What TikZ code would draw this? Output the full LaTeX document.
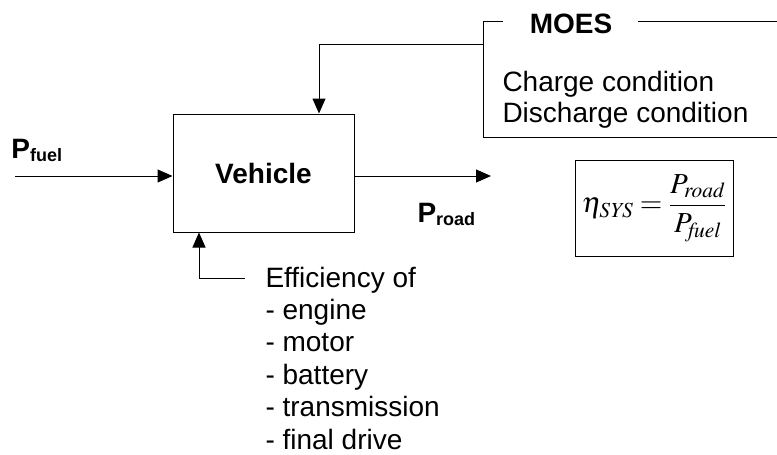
\documentclass[tikz,border=0pt]{standalone}
\usepackage{amsmath}
\usepackage{mathptmx}
\usepackage[no-math]{fontspec}
\setmainfont{Liberation Sans}
\usetikzlibrary{arrows.meta}
\begin{document}
\begin{tikzpicture}[x=1pt,y=-1pt,line width=1pt,
  arr/.style={-{Triangle[length=15pt,width=13pt]}},
  lbl/.style={inner sep=0pt,anchor=base west,font=\fontsize{28}{33}\selectfont},
  blbl/.style={inner sep=0pt,anchor=base west,font=\bfseries\fontsize{28}{33}\selectfont},
  box/.style={draw,inner sep=0pt}]
\useasboundingbox (0,0) rectangle (777,455);
% vehicle
\node[box,minimum width=181pt,minimum height=118pt,font=\bfseries\fontsize{28}{33}\selectfont] (veh) at (263.5,173) {Vehicle};
% input / output
\coordinate (fin) at (15,176);
\coordinate (fout) at (491,176);
\draw[arr] (fin) -- (fin -| veh.west);
\draw[arr] (fout -| veh.east) -- (fout);
\node[blbl] (pfuel) at (11,158) {P\raisebox{-3pt}{\fontsize{18}{20}\selectfont fuel}};
\node[blbl] (proad) at (417,222) {P\raisebox{-3pt}{\fontsize{18}{20}\selectfont road}};
% MOES frame
\node[blbl,anchor=base] (moes) at (571,33) {MOES};
\coordinate (mtl) at (483,21);
\coordinate (mbl) at (483,137);
\draw (503,21) -- (mtl) -- (mbl) -- (777,137);
\draw (638,21) -- (777,21);
\node[lbl] (charge) at (502,91) {Charge condition};
\node[lbl] (discharge) at (502,122) {Discharge condition};
\coordinate (mout) at (483,44);
\coordinate (mk) at (319,44);
\draw[arr] (mout) -- (mk) -- (mk |- veh.north);
% efficiency
\coordinate (ek) at (245,278);
\coordinate (ec) at (199,278);
\draw[arr] (ek) -- (ec) -- (ec |- veh.south);
\node[lbl] (eff1) at (265,287) {Efficiency of};
\node[lbl] (eff2) at (265,319.4) {- engine};
\node[lbl] (eff3) at (265,351.8) {- motor};
\node[lbl] (eff4) at (265,384.2) {- battery};
\node[lbl] (eff5) at (265,416.6) {- transmission};
\node[lbl] (eff6) at (265,449) {- final drive};
% formula
\node[box,minimum width=158pt,minimum height=96pt] (eq) at (654,208)
  {\fontsize{29}{33}\selectfont $\eta_{\mathit{SYS}}\;{=}\;\dfrac{P_{\mathit{road}}}{P_{\mathit{fuel}}}$};
\end{tikzpicture}
\end{document}
